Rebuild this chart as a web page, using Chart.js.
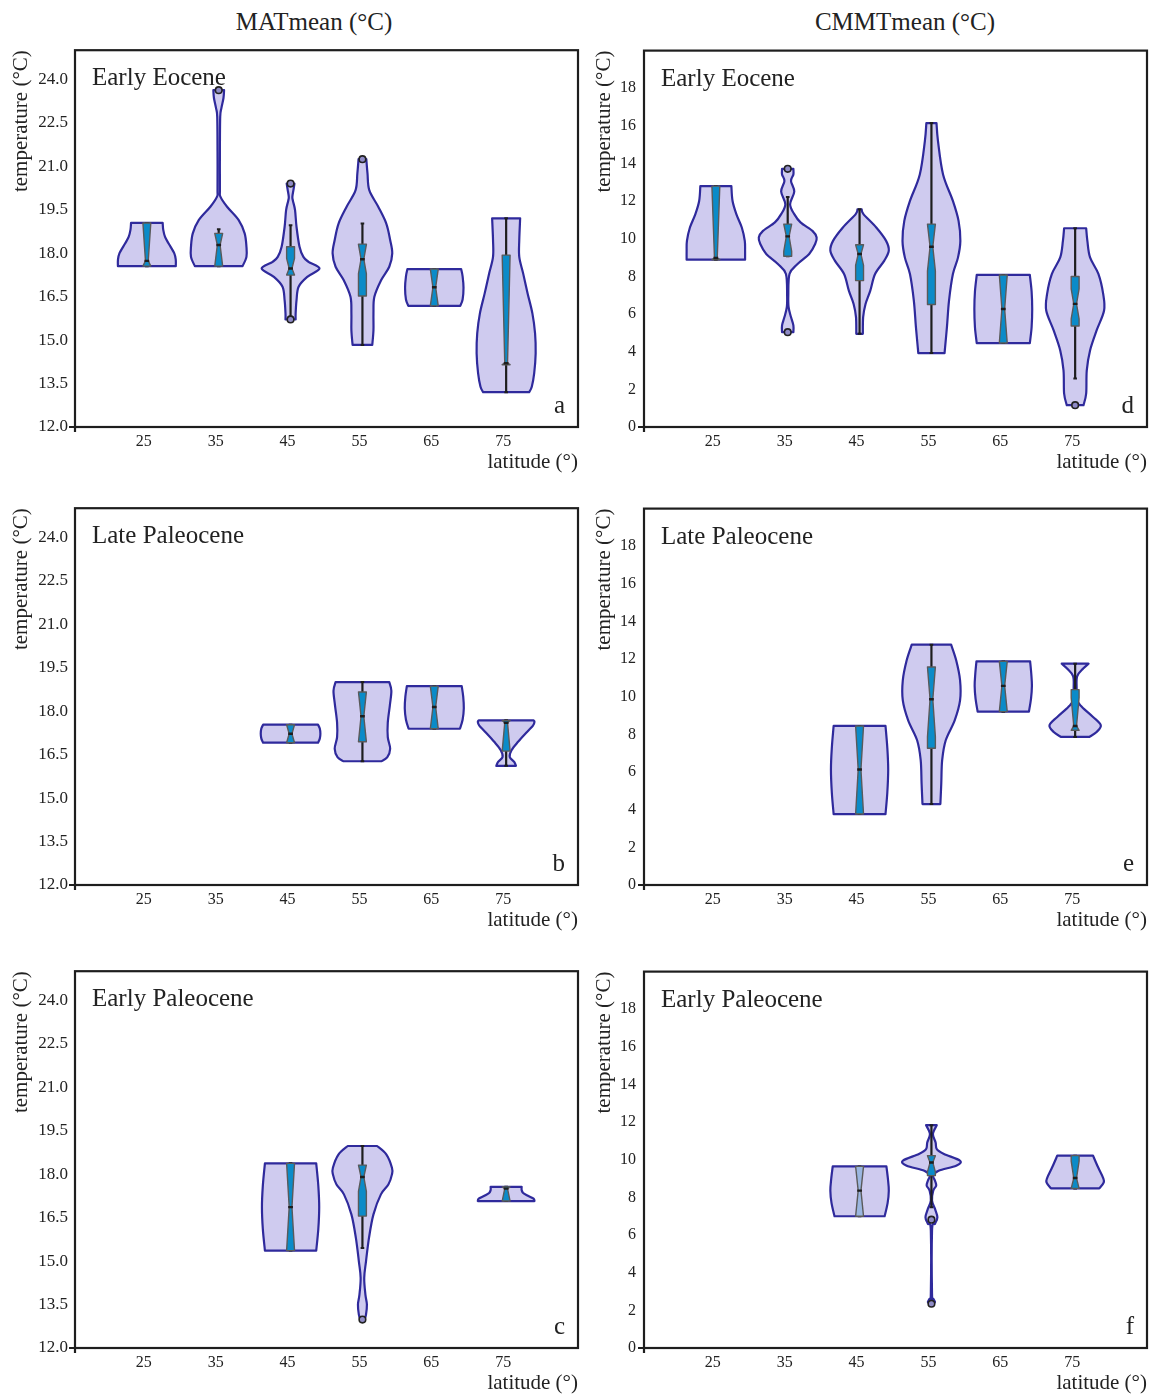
<!DOCTYPE html>
<html>
<head>
<meta charset="utf-8">
<script src="https://cdn.jsdelivr.net/npm/chart.js@4.4.0/dist/chart.umd.min.js"></script>
<style>
  body { margin: 0; background: #fff; width: 1153px; height: 1396px; overflow: hidden; position: relative; font-family: "Liberation Serif", serif; }
  canvas { position: absolute; }
  .coltitle { position: absolute; top: 8px; font-size: 25px; color: #222; transform: translateX(-50%); white-space: nowrap; }
</style>
</head>
<body>
<div class="coltitle" style="left:314px">MATmean (°C)</div>
<div class="coltitle" style="left:905px">CMMTmean (°C)</div>

<canvas id="pa" width="585" height="444" style="left:0;top:33px"></canvas>
<canvas id="pd" width="568" height="444" style="left:585px;top:33px"></canvas>
<canvas id="pb" width="585" height="444" style="left:0;top:491px"></canvas>
<canvas id="pe" width="568" height="444" style="left:585px;top:491px"></canvas>
<canvas id="pc" width="585" height="444" style="left:0;top:954px"></canvas>
<canvas id="pf" width="568" height="444" style="left:585px;top:954px"></canvas>

<script>
// tick labels
const latTicks = [25, 35, 45, 55, 65, 75];
const matTicks = [12.0, 13.5, 15.0, 16.5, 18.0, 19.5, 21.0, 22.5, 24.0];
const cmmtTicks = [0, 2, 4, 6, 8, 10, 12, 14, 16, 18];

// box stats per violin: [whisker low, q1, median, q3, whisker high, notch]
// violin profiles: [temperature, relative density]
// outliers: [latitude, temperature]

// a - MATmean, Early Eocene
const aLat = [25, 35, 45, 55, 65, 75];
const aBox = [
  [17.55, 17.55, 17.73, 19.04, 19.04, 1.5],
  [17.55, 17.55, 18.28, 18.68, 18.82, 0.8],
  [15.80, 17.24, 17.47, 18.22, 18.96, 0.35],
  [14.83, 16.52, 17.79, 18.31, 19.02, 0.5],
  [16.18, 16.18, 16.82, 17.45, 17.45, 1.0],
  [13.20, 14.15, 14.20, 17.93, 19.20, 3.8]
];
const aViolin = [
  [[17.55,.97],[17.76,.97],[17.99,.92],[18.33,.73],[18.56,.61],[18.8,.55],[19.04,.53]],
  [[17.55,.8],[17.87,.93],[18.22,.93],[18.68,.87],[19.14,.67],[19.6,.28],[19.94,.06],[20.2,.04],[21.5,.04],[22.7,.05],[23.0,.09],[23.35,.16],[23.62,.18]],
  [[15.71,.17],[15.92,.17],[16.38,.2],[16.84,.27],[17.18,.56],[17.47,.97],[17.7,.6],[17.87,.43],[18.22,.3],[18.9,.2],[19.48,.15],[19.8,.08],[19.94,.06],[20.2,.1],[20.4,.13]],
  [[14.83,.33],[15.34,.37],[15.92,.37],[16.49,.4],[17.07,.63],[17.53,.9],[17.99,1.0],[18.45,.93],[19.02,.8],[19.6,.53],[20.17,.23],[20.75,.17],[21.24,.13]],
  [[16.18,.87],[16.4,.95],[16.8,.98],[17.2,.95],[17.45,.9]],
  [[13.2,.77],[13.39,.86],[13.85,.94],[14.54,.99],[15.23,.97],[15.92,.88],[16.61,.72],[17.3,.57],[17.87,.44],[18.45,.44],[19.2,.47]]
];
const aOut = [[35, 23.62], [45, 20.40], [45, 15.71], [55, 21.24]];

// d - CMMTmean, Early Eocene
const dLat = [25, 35, 45, 55, 65, 75];
const dBox = [
  [8.89, 8.89, 8.98, 12.80, 12.80, 4],
  [9.07, 9.07, 10.13, 10.78, 12.22, 0.8],
  [4.95, 7.78, 9.19, 9.68, 11.57, 0.6],
  [3.93, 6.51, 9.58, 10.78, 16.15, 1.3],
  [4.46, 4.46, 6.27, 8.08, 8.08, 2],
  [2.58, 5.37, 6.54, 8.00, 10.56, 0.8]
];
const dViolin = [
  [[8.89,.98],[9.37,.98],[9.89,.97],[10.6,.87],[11.3,.69],[12.01,.56],[12.8,.52]],
  [[5.04,.19],[5.4,.19],[5.84,.11],[6.37,.03],[7.0,.02],[8.13,.06],[8.66,.33],[9.19,.72],[9.72,.92],[10.07,.97],[10.42,.83],[10.87,.43],[11.31,.22],[11.84,.08],[12.51,.22],[13.07,.11],[13.42,.19],[13.72,.19]],
  [[4.95,.11],[5.84,.12],[6.54,.2],[7.25,.36],[8.13,.52],[8.84,.83],[9.37,.98],[9.89,.89],[10.6,.56],[11.31,.13],[11.57,.07]],
  [[3.93,.44],[5.31,.52],[6.72,.59],[8.13,.72],[9.0,.89],[9.89,.97],[10.95,.91],[12.01,.72],[13.42,.39],[15.19,.22],[16.15,.17]],
  [[4.46,.89],[5.3,.95],[6.27,.97],[7.2,.95],[8.08,.89]],
  [[1.16,.28],[1.78,.37],[3.01,.39],[4.07,.5],[5.13,.72],[6.19,.97],[7.07,.94],[8.13,.78],[9.01,.5],[9.89,.41],[10.56,.37]]
];
const dOut = [[35, 13.72], [35, 5.04], [75, 1.16]];

// b - MATmean, Late Paleocene
const bLat = [45, 55, 65, 75];
const bBox = [
  [16.91, 16.91, 17.22, 17.53, 17.53, 0.4],
  [16.27, 16.94, 17.82, 18.66, 19.00, 0.9],
  [17.39, 17.39, 18.14, 18.86, 18.86, 0.8],
  [16.11, 16.62, 17.60, 17.68, 17.68, 1.0]
];
const bViolin = [
  [[16.91,.92],[17.05,.98],[17.22,1.0],[17.4,.98],[17.53,.92]],
  [[16.27,.63],[16.4,.83],[16.7,.93],[17.1,.85],[17.6,.85],[18.2,.92],[18.7,.97],[19.0,.9]],
  [[17.39,.86],[17.7,.95],[18.1,.99],[18.5,.97],[18.86,.92]],
  [[16.11,.33],[16.25,.27],[16.42,.12],[16.65,.18],[16.94,.4],[17.28,.7],[17.5,.9],[17.63,.95],[17.68,.92]]
];
const bOut = [];

// e - CMMTmean, Late Paleocene
const eLat = [45, 55, 65, 75];
const eBox = [
  [3.77, 3.77, 6.14, 8.45, 8.45, 2.5],
  [4.30, 7.27, 9.87, 11.58, 12.77, 2.0],
  [9.21, 9.21, 10.58, 11.88, 11.88, 1.5],
  [7.87, 8.22, 8.45, 10.38, 11.76, 1.5]
];
const eViolin = [
  [[3.77,.87],[4.9,.93],[6.14,.96],[7.3,.93],[8.45,.87]],
  [[4.3,.3],[5.39,.33],[6.63,.36],[7.69,.48],[8.75,.78],[9.81,.96],[10.88,.96],[11.94,.83],[12.77,.66]],
  [[9.21,.86],[9.9,.93],[10.58,.96],[11.2,.94],[11.88,.9]],
  [[7.87,.48],[8.13,.72],[8.49,.86],[8.93,.6],[9.46,.23],[9.81,.07],[10.5,.05],[11.1,.07],[11.5,.27],[11.76,.45]]
];
const eOut = [];

// c - MATmean, Early Paleocene
const cLat = [45, 55, 75];
const cBox = [
  [15.36, 15.36, 16.86, 18.37, 18.37, 1.6],
  [15.45, 16.55, 17.90, 18.31, 18.97, 0.5],
  [17.07, 17.07, 17.50, 17.56, 17.56, 0.5]
];
const cViolin = [
  [[15.36,.86],[16.1,.93],[16.86,.96],[17.6,.93],[18.37,.86]],
  [[12.98,.07],[13.15,.12],[13.5,.15],[13.84,.1],[14.42,.06],[14.99,.12],[15.8,.22],[16.61,.37],[17.3,.62],[17.64,.87],[17.99,.99],[18.22,.99],[18.68,.8],[18.97,.49]],
  [[17.07,.95],[17.15,.92],[17.25,.73],[17.35,.57],[17.45,.52],[17.56,.52]]
];
const cOut = [[55, 12.98]];

// f - CMMTmean, Early Paleocene
const fLat = [45, 55, 75];
const fBox = [
  [7.00, 7.00, 8.36, 9.65, 9.65, 1.4],
  [7.48, 9.16, 9.86, 10.22, 11.84, 0.5],
  [8.48, 8.48, 9.03, 10.22, 10.22, 0.9]
];
const fViolin = [
  [[7.0,.84],[7.7,.94],[8.36,.98],[9.0,.95],[9.65,.9]],
  [[2.35,.03],[2.44,.12],[2.62,.06],[2.88,.02],[6.24,.02],[6.6,.12],[6.95,.2],[7.39,.12],[7.83,.02],[8.36,.06],[8.63,.16],[8.89,.12],[9.16,.06],[9.42,.24],[9.69,.83],[9.95,.96],[10.31,.42],[10.57,.18],[10.92,.14],[11.37,.05],[11.84,.18]],
  [[8.48,.81],[8.8,.96],[9.07,.93],[9.6,.77],[10.22,.6]]
];
const fOut = [[55, 6.82], [55, 2.35]];

// drawing styles
const MAXW = 4.15;   // violin half width (deg latitude) at density 1
const BOXW = 0.55;   // box half width (deg latitude)
const violinFill = '#cfcbef';
const violinEdge = '#2f2a9c';
const boxFill = '#0b8bc8';
const paleBoxFill = '#9bb6e0';
const ink = '#1e1e1e';

Chart.defaults.font.family = "'Liberation Serif', serif";
Chart.defaults.color = '#222';

// Catmull-Rom curve through the points, clamp keeps control points on one side of the centre
function curveThrough(ctx, pts, first, clamp) {
  if (first) ctx.moveTo(pts[0][0], pts[0][1]);
  else ctx.lineTo(pts[0][0], pts[0][1]);
  for (let i = 0; i < pts.length - 1; i++) {
    const p0 = pts[Math.max(i - 1, 0)], p1 = pts[i], p2 = pts[i + 1], p3 = pts[Math.min(i + 2, pts.length - 1)];
    ctx.bezierCurveTo(
      clamp(p1[0] + (p2[0] - p0[0]) / 6), p1[1] + (p2[1] - p0[1]) / 6,
      clamp(p2[0] - (p3[0] - p1[0]) / 6), p2[1] - (p3[1] - p1[1]) / 6,
      p2[0], p2[1]);
  }
}

function drawViolin(chart, lat, prof) {
  const ctx = chart.ctx, xs = chart.scales.x, ys = chart.scales.y;
  const cx = xs.getPixelForValue(lat);
  const right = prof.map(([t, d]) => [xs.getPixelForValue(lat + d * MAXW), ys.getPixelForValue(t)]);
  const left = prof.map(([t, d]) => [xs.getPixelForValue(lat - d * MAXW), ys.getPixelForValue(t)]).reverse();
  ctx.beginPath();
  curveThrough(ctx, right, true, v => Math.max(v, cx + 0.3));
  curveThrough(ctx, left, false, v => Math.min(v, cx - 0.3));
  ctx.closePath();
  ctx.fillStyle = violinFill;
  ctx.fill();
  ctx.lineWidth = 2.2;
  ctx.lineJoin = 'round';
  ctx.strokeStyle = violinEdge;
  ctx.stroke();
}

function drawBox(chart, lat, b, pale) {
  const ctx = chart.ctx, xs = chart.scales.x, ys = chart.scales.y;
  const [lo, q1, med, q3, hi, notch] = b;
  const X = v => xs.getPixelForValue(v), Y = v => ys.getPixelForValue(v);
  const cx = X(lat);

  // whisker
  ctx.strokeStyle = ink;
  ctx.lineWidth = 2.2;
  ctx.beginPath();
  ctx.moveTo(cx, Y(lo));
  ctx.lineTo(cx, Y(hi));
  ctx.stroke();
  ctx.lineWidth = 2;
  [lo, hi].forEach(v => {
    ctx.beginPath();
    ctx.moveTo(cx - 1.8, Y(v));
    ctx.lineTo(cx + 1.8, Y(v));
    ctx.stroke();
  });

  // notched box
  const nLo = Math.max(q1, med - notch), nHi = Math.min(q3, med + notch);
  const wL = X(lat - BOXW), wR = X(lat + BOXW);
  const mL = X(lat - BOXW * 0.35), mR = X(lat + BOXW * 0.35);
  ctx.beginPath();
  ctx.moveTo(wL, Y(q1));
  ctx.lineTo(wL, Y(nLo));
  ctx.lineTo(mL, Y(med));
  ctx.lineTo(wL, Y(nHi));
  ctx.lineTo(wL, Y(q3));
  ctx.lineTo(wR, Y(q3));
  ctx.lineTo(wR, Y(nHi));
  ctx.lineTo(mR, Y(med));
  ctx.lineTo(wR, Y(nLo));
  ctx.lineTo(wR, Y(q1));
  ctx.closePath();
  ctx.fillStyle = pale ? paleBoxFill : boxFill;
  ctx.fill();
  ctx.strokeStyle = '#5a5a5a';
  ctx.lineWidth = 1.4;
  ctx.stroke();

  // median
  ctx.strokeStyle = ink;
  ctx.lineWidth = 2.4;
  ctx.beginPath();
  ctx.moveTo(mL - 1, Y(med));
  ctx.lineTo(mR + 1, Y(med));
  ctx.stroke();
}

const violinPlugin = {
  id: 'violins',
  beforeDatasetsDraw(chart) {
    const p = chart.options.plugins.violins;
    const ctx = chart.ctx;
    ctx.save();
    const a = chart.chartArea;
    ctx.beginPath();
    ctx.rect(a.left, a.top, a.right - a.left, a.bottom - a.top);
    ctx.clip();
    p.lat.forEach((lat, i) => drawViolin(chart, lat, p.violin[i]));
    p.lat.forEach((lat, i) => drawBox(chart, lat, p.box[i], p.pale.includes(lat)));
    ctx.restore();
  },
  afterDatasetsDraw(chart) {
    const p = chart.options.plugins.violins;
    const ctx = chart.ctx, a = chart.chartArea;
    ctx.save();
    // frame + small stubs where the axes meet
    ctx.strokeStyle = ink;
    ctx.lineWidth = 2.2;
    ctx.strokeRect(a.left, a.top, a.right - a.left, a.bottom - a.top);
    ctx.beginPath();
    ctx.moveTo(a.left - 6, a.bottom);
    ctx.lineTo(a.left, a.bottom);
    ctx.moveTo(a.left, a.bottom);
    ctx.lineTo(a.left, a.bottom + 5);
    ctx.stroke();
    // panel name and letter
    ctx.fillStyle = '#222';
    ctx.font = "25px 'Liberation Serif', serif";
    ctx.textBaseline = 'alphabetic';
    ctx.textAlign = 'left';
    ctx.fillText(p.name, a.left + 17, a.top + 35);
    ctx.textAlign = 'right';
    ctx.fillText(p.letter, a.right - 13, a.bottom - 14);
    ctx.restore();
  }
};

function makePanel(id, opts) {
  const leftCol = opts.col === 0;
  const yTicks = leftCol ? matTicks : cmmtTicks;
  new Chart(document.getElementById(id), {
    type: 'scatter',
    data: {
      datasets: [{
        data: opts.out.map(([lat, v]) => ({ x: lat, y: v })),
        pointRadius: 3.3,
        pointBorderWidth: 1.6,
        pointBorderColor: '#222',
        pointBackgroundColor: '#8f8bc6',
        showLine: false
      }]
    },
    options: {
      responsive: false,
      devicePixelRatio: 1,
      animation: false,
      events: [],
      layout: { padding: { top: 10, right: leftCol ? 7 : 6, left: 0, bottom: 0 } },
      plugins: {
        legend: { display: false },
        tooltip: { enabled: false },
        violins: { lat: opts.lat, box: opts.box, violin: opts.violin, name: opts.name, letter: opts.letter, pale: opts.pale || [] }
      },
      scales: {
        x: {
          type: 'linear',
          min: 15, max: 85,
          grid: { display: false, drawTicks: false },
          border: { display: false },
          afterBuildTicks: s => { s.ticks = latTicks.map(v => ({ value: v })); },
          afterFit: s => { s.height = 50; },
          ticks: { padding: 5, labelOffset: -3, font: { size: 16 }, color: '#222' },
          title: { display: true, text: 'latitude (°)', align: 'end', font: { size: 21 }, color: '#222', padding: { top: 0, bottom: 2 } }
        },
        y: {
          type: 'linear',
          min: leftCol ? 12 : 0,
          max: leftCol ? 25 : 20,
          grid: { display: false, drawTicks: false },
          border: { display: false },
          afterBuildTicks: s => { s.ticks = yTicks.map(v => ({ value: v })); },
          afterFit: s => { s.width = leftCol ? 75 : 59; },
          ticks: {
            padding: leftCol ? 7 : 8,
            font: { size: leftCol ? 17 : 16 },
            color: '#222',
            callback: v => leftCol ? Number(v).toFixed(1) : String(v)
          },
          title: { display: true, text: 'temperature (°C)', align: 'end', font: { size: 21 }, color: '#222', padding: { top: leftCol ? 9 : 7, bottom: 0 } }
        }
      }
    },
    plugins: [violinPlugin]
  });
}

makePanel('pa', { col: 0, lat: aLat, box: aBox, violin: aViolin, out: aOut, name: 'Early Eocene', letter: 'a' });
makePanel('pd', { col: 1, lat: dLat, box: dBox, violin: dViolin, out: dOut, name: 'Early Eocene', letter: 'd' });
makePanel('pb', { col: 0, lat: bLat, box: bBox, violin: bViolin, out: bOut, name: 'Late Paleocene', letter: 'b' });
makePanel('pe', { col: 1, lat: eLat, box: eBox, violin: eViolin, out: eOut, name: 'Late Paleocene', letter: 'e' });
makePanel('pc', { col: 0, lat: cLat, box: cBox, violin: cViolin, out: cOut, name: 'Early Paleocene', letter: 'c' });
makePanel('pf', { col: 1, lat: fLat, box: fBox, violin: fViolin, out: fOut, name: 'Early Paleocene', letter: 'f', pale: [45] });
</script>
</body>
</html>
